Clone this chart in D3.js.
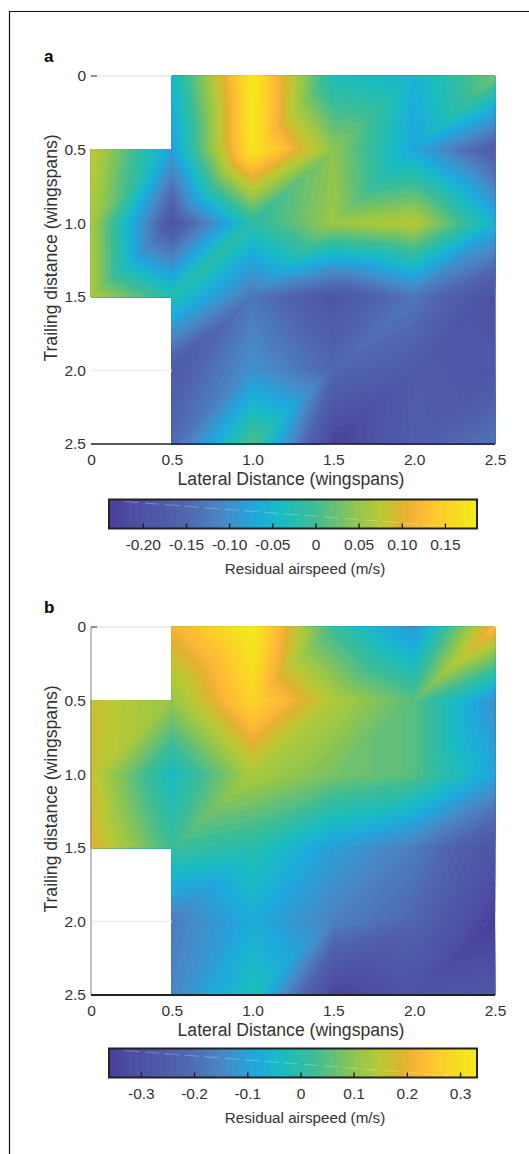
<!DOCTYPE html>
<html><head><meta charset="utf-8">
<script src="https://cdn.jsdelivr.net/npm/d3@7"></script>
<style>
html,body{margin:0;padding:0;background:#fff;}
svg{display:block;}
text{font-family:"Liberation Sans",Arial,sans-serif;fill:#333;}
</style></head><body>
<svg id="chart" width="529" height="1154"></svg>
<script>
const lateral = [0, 0.5, 1.0, 1.5, 2.0, 2.5];
const trailing = [0, 0.5, 1.0, 1.5, 2.0, 2.5];
const axisTicks = [0, 0.5, 1.0, 1.5, 2.0, 2.5];
const residualA = [
  [null, -0.050, 0.186, -0.035, -0.058, 0.030],
  [0.085, -0.080, 0.180, 0.045, -0.072, -0.175],
  [0.065, -0.190, -0.018, 0.055, 0.075, -0.055],
  [0.070, -0.025, -0.130, -0.190, -0.130, -0.205],
  [null, -0.180, -0.095, -0.150, -0.175, -0.190],
  [null, -0.145, 0.010, -0.235, -0.170, -0.130]
];
const residualB = [
  [null, 0.210, 0.330, 0.020, -0.120, 0.230],
  [0.170, 0.110, 0.280, 0.140, 0.050, -0.130],
  [0.165, -0.040, 0.135, 0.080, 0.050, -0.090],
  [0.200, 0.020, -0.010, -0.105, -0.170, -0.290],
  [null, -0.170, -0.075, -0.160, -0.220, -0.355],
  [null, -0.150, -0.020, -0.345, -0.300, -0.280]
];
const barTicksA = [-0.20, -0.15, -0.10, -0.05, 0, 0.05, 0.10, 0.15];
const barTicksB = [-0.3, -0.2, -0.1, 0, 0.1, 0.2, 0.3];
const rangeA = [-0.238, 0.186];
const rangeB = [-0.358, 0.330];
const colorStops = [0, 0.06, 0.2, 0.3, 0.4, 0.47, 0.56, 0.62, 0.68, 0.74, 0.8, 0.84, 0.9, 1];
const colorValues = ["#4b3e9b","#4d4ea3","#5064ae","#4a86c4","#1eaadf","#1abcc0","#3fbd94","#6cc070","#96c64a","#b8c935","#dfb32f","#fcb53a","#fdcc2b","#f2ec1a"];
const levelCount = 60;
const FONT = '"Liberation Sans",Arial,sans-serif';

const svg = d3.select("#chart");
const ramp = d3.scaleLinear().domain(colorStops).range(colorValues).interpolate(d3.interpolateRgb);

svg.append("path").attr("d", "M529.5,11.5H9.5V1154").attr("fill", "none").attr("stroke", "#111").attr("stroke-width", 1.2);

// keep the part of a triangle whose value is at or above the level
function clipAbove(tri, level) {
  const out = [];
  tri.forEach((p, i) => {
    const q = tri[(i + 1) % tri.length];
    if (p.v >= level) out.push(p);
    if ((p.v >= level) !== (q.v >= level)) {
      const t = (level - p.v) / (q.v - p.v);
      out.push({ lx: p.lx + t * (q.lx - p.lx), ty: p.ty + t * (q.ty - p.ty), v: level });
    }
  });
  return out;
}

function panel(cfg) {
  const g = svg.append("g");
  const x = d3.scaleLinear().domain([0, 2.5]).range([91, 495]);
  const y = d3.scaleLinear().domain([0, 2.5]).range([cfg.top, cfg.bottom]);
  const step = (cfg.range[1] - cfg.range[0]) / levelCount;
  const levels = d3.range(levelCount).map(i => cfg.range[0] + i * step);
  const bandColor = v => ramp((v + step / 2 - cfg.range[0]) / (cfg.range[1] - cfg.range[0]));

  // split each complete cell along its rising diagonal
  const triangles = [];
  const node = (r, c) => ({ lx: lateral[c], ty: trailing[r], v: cfg.grid[r][c] });
  for (let r = 0; r < trailing.length - 1; r++) {
    for (let c = 0; c < lateral.length - 1; c++) {
      const tl = node(r, c), tr = node(r, c + 1), bl = node(r + 1, c), br = node(r + 1, c + 1);
      if ([tl, tr, bl, br].some(n => n.v === null)) continue;
      triangles.push([tl, tr, bl], [tr, br, bl]);
    }
  }
  const line = d3.line().x(p => x(p.lx)).y(p => y(p.ty));
  const ringPath = level => triangles.map(t => clipAbove(t, level)).filter(p => p.length > 2).map(p => line(p) + "Z").join("");
  g.append("g").selectAll("path").data(levels).join("path")
    .attr("d", ringPath).attr("fill", bandColor).attr("stroke", bandColor).attr("stroke-width", 0.4);

  // faint top and grid lines
  g.append("line").attr("x1", 97).attr("x2", x(0.5)).attr("y1", y(0)).attr("y2", y(0)).attr("stroke", "#dcdcdc").attr("stroke-width", 1);
  g.append("line").attr("x1", x(0)).attr("x2", x(0.5)).attr("y1", y(2)).attr("y2", y(2)).attr("stroke", "#efefef").attr("stroke-width", 1.5);
  if (cfg.leftLine) g.append("line").attr("x1", x(0)).attr("x2", x(0)).attr("y1", y(0)).attr("y2", y(2.5)).attr("stroke", "#999").attr("stroke-width", 1.2);
  g.append("line").attr("x1", x(0)).attr("x2", 495).attr("y1", y(2.5)).attr("y2", y(2.5)).attr("stroke", "#222").attr("stroke-width", cfg.baseWidth);
  g.append("line").attr("x1", x(0)).attr("x2", x(0) + 6).attr("y1", y(0)).attr("y2", y(0)).attr("stroke", "#222").attr("stroke-width", 1);

  const fmt = v => v === 0 ? "0" : v.toFixed(1);
  const xAxis = g.append("g").attr("transform", `translate(0,${cfg.bottom})`)
    .call(d3.axisBottom(x).tickValues(axisTicks).tickSize(0).tickPadding(9.5).tickFormat(fmt));
  const yAxis = g.append("g").attr("transform", "translate(91,0)")
    .call(d3.axisLeft(y).tickValues(axisTicks).tickSize(0).tickPadding(5).tickFormat(fmt));
  [xAxis, yAxis].forEach(a => {
    a.select(".domain").remove();
    a.selectAll("text").attr("font-size", 15.5).style("font-family", FONT).attr("fill", "#333");
  });

  g.append("text").attr("x", 291).attr("y", cfg.bottom + 41).attr("text-anchor", "middle").attr("font-size", 17.6).text("Lateral Distance (wingspans)");
  g.append("text").attr("transform", `translate(57,${cfg.top + 172}) rotate(-90)`).attr("text-anchor", "middle").attr("font-size", 17.6).text("Trailing distance (wingspans)");
  g.append("text").attr("x", 44).attr("y", cfg.top - 14).attr("font-size", 17).attr("font-weight", "bold").style("fill", "#000").text(cfg.letter);

  // colour bar
  const bx = d3.scaleLinear().domain(cfg.range).range([110, 476]);
  const barTop = cfg.barTop, barH = 29;
  g.append("g").selectAll("rect").data(levels).join("rect")
    .attr("x", d => bx(d)).attr("y", barTop).attr("width", (d, i) => i === levelCount - 1 ? bx(cfg.range[1]) - bx(d) : bx(cfg.range[0] + step) - bx(cfg.range[0]) + 1.2).attr("height", barH)
    .attr("fill", bandColor);
  g.append("line").attr("x1", 125).attr("x2", 448).attr("y1", barTop + 2).attr("y2", barTop + barH - 2)
    .attr("stroke", "#fff").attr("stroke-opacity", 0.4).attr("stroke-width", 0.7).attr("stroke-dasharray", "14 6");
  const barAxis = g.append("g").attr("transform", `translate(0,${barTop + barH})`)
    .call(d3.axisBottom(bx).tickValues(cfg.barTicks).tickSize(0).tickPadding(10).tickFormat(cfg.barFmt));
  barAxis.select(".domain").remove();
  barAxis.selectAll("text").attr("font-size", 15.5).style("font-family", FONT).attr("fill", "#333");
  barAxis.selectAll(".tick line").attr("y1", -5).attr("y2", 0).attr("stroke", "#222").attr("stroke-width", 1.4);
  g.append("rect").attr("x", 109).attr("y", barTop).attr("width", 368).attr("height", barH).attr("fill", "none").attr("stroke", "#222").attr("stroke-width", 2);
  g.append("text").attr("x", 305).attr("y", barTop + 74).attr("text-anchor", "middle").attr("font-size", 15.2).text("Residual airspeed (m/s)");
}

panel({ grid: residualA, range: rangeA, top: 76, bottom: 444, barTop: 499.5, letter: "a", leftLine: false, baseWidth: 1.3,
  barTicks: barTicksA, barFmt: v => v === 0 ? "0" : v.toFixed(2) });
panel({ grid: residualB, range: rangeB, top: 627, bottom: 995, barTop: 1048.5, letter: "b", leftLine: true, baseWidth: 2,
  barTicks: barTicksB, barFmt: v => v === 0 ? "0" : v.toFixed(1) });
</script>
</body></html>
